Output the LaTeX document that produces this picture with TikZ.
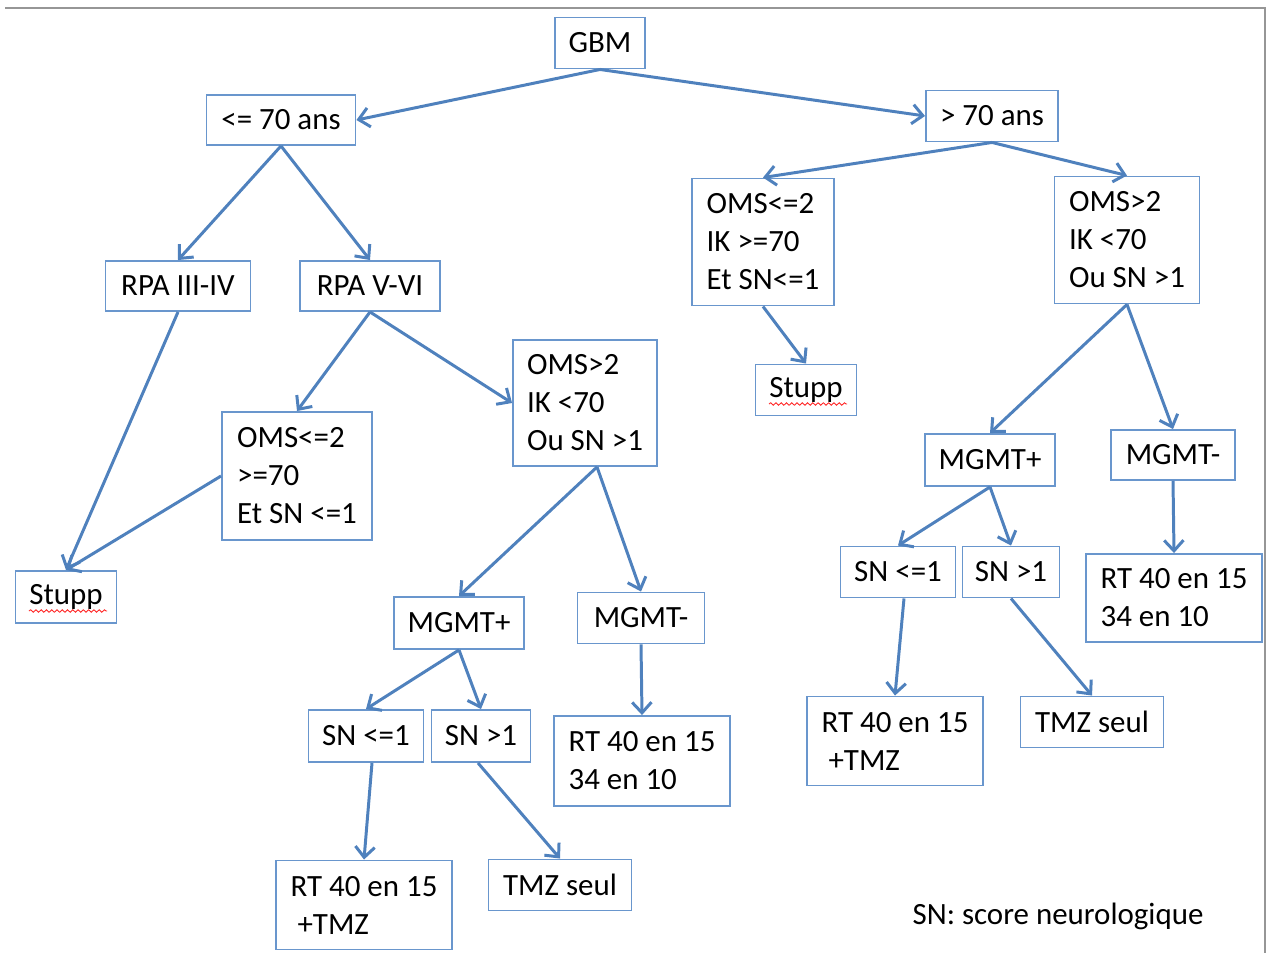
\documentclass[tikz,border=0pt]{standalone}
\usepackage{fontspec}
\setmainfont{Carlito}
\usetikzlibrary{arrows.meta,calc,decorations.pathmorphing}
\definecolor{lineblue}{RGB}{79,129,189}
\definecolor{boxblue}{RGB}{105,150,205}
\definecolor{framegray}{RGB}{150,150,150}

\begin{document}
\begin{tikzpicture}[x=0.02cm,y=-0.02cm,
  box/.style 2 args={draw=boxblue,line width=1.1pt,fill=white,inner sep=0pt,
    minimum width=#1*0.02cm,minimum height=#2*0.02cm,align=left,
    font=\fontsize{17.6}{21.6}\selectfont},
  arr/.style={draw=lineblue,line width=1.7pt,
    -{Straight Barb[length=6pt,width=11pt]}},
  spell/.style={red!85,line width=0.5pt,decorate,
    decoration={snake,amplitude=0.7pt,segment length=3pt}}]
  \useasboundingbox (0,0) rectangle (1273,953);
  \draw[framegray,line width=1.2pt] (5,8) -- (1265,8) -- (1265,953);

  \node[box={90}{51}] (GBM) at (600,43) {GBM};
  \node[box={149}{50}] (A) at (281,120) {<= 70 ans};
  \node[box={132}{51}] (B) at (992,116) {> 70 ans};

  % moins de 70 ans
  \node[box={145}{50}] (A1) at (178,286) {RPA III-IV};
  \node[box={140}{50}] (A2) at (370,286) {RPA V-VI};
  \node[box={150}{128}] (A3) at (297,476) {OMS<=2\\>=70\\Et SN <=1};
  \node[box={144}{126}] (A4) at (585,403) {OMS>2\\IK <70\\Ou SN >1};
  \node[box={101}{52}] (A5) at (66,597) {Stupp};
  \node[box={130}{52}] (A6) at (459,623) {MGMT+};
  \node[box={127}{51}] (A7) at (641,618) {MGMT-};
  \node[box={115}{52}] (A8) at (366,736) {SN <=1};
  \node[box={99}{52}] (A9) at (481,736) {SN >1};
  \node[box={176}{90}] (A10) at (642,761) {RT 40 en 15\\34 en 10};
  \node[box={176}{89}] (A11) at (364,905) {RT 40 en 15\\\ +TMZ};
  \node[box={143}{51}] (A12) at (560,885) {TMZ seul};

  % plus de 70 ans
  \node[box={142}{127}] (B1) at (763,242) {OMS<=2\\IK >=70\\Et SN<=1};
  \node[box={145}{127}] (B2) at (1127,240) {OMS>2\\IK <70\\Ou SN >1};
  \node[box={101}{51}] (B3) at (806,390) {Stupp};
  \node[box={130}{52}] (B4) at (990,460) {MGMT+};
  \node[box={124}{50}] (B5) at (1173,455) {MGMT-};
  \node[box={115}{51}] (B6) at (898,572) {SN <=1};
  \node[box={97}{51}] (B7) at (1011,572) {SN >1};
  \node[box={176}{88}] (B8) at (1174,598) {RT 40 en 15\\34 en 10};
  \node[box={176}{89}] (B9) at (895,741) {RT 40 en 15\\\ +TMZ};
  \node[box={143}{51}] (B10) at (1092,722) {TMZ seul};

  \node[font=\fontsize{17.6}{21}\selectfont] (SN) at (1058,916) {SN: score neurologique};

  \draw[spell] ($(A5.center)+(-37,14)$) -- ($(A5.center)+(41,14)$);
  \draw[spell] ($(B3.center)+(-37,14)$) -- ($(B3.center)+(41,14)$);

  \draw[arr] (GBM.south) -- (A.east);
  \draw[arr] (GBM.south) -- (B.west);

  \draw[arr] (A.south) -- (A1.north);
  \draw[arr] (A.south) -- (A2.north);
  \draw[arr] (A1.south) -- (A5.north);
  \draw[arr] (A2.south) -- (A3.north);
  \draw[arr] (A2.south) -- (A4.west);
  \draw[arr] (A3.west) -- (A5.north);
  \draw[arr] ($(A4.south)+(12,0)$) -- (A6.north);
  \draw[arr] ($(A4.south)+(12,0)$) -- (A7.north);
  \draw[arr] (A6.south) -- (A8.north);
  \draw[arr] (A6.south) -- (A9.north);
  \draw[arr] (A7.south) -- (A10.north);
  \draw[arr] ($(A8.south)+(6,0)$) -- (A11.north);
  \draw[arr] ($(A9.south)+(-3,0)$) -- (A12.north);

  \draw[arr] (B.south) -- (B1.north);
  \draw[arr] (B.south) -- (B2.north);
  \draw[arr] (B1.south) -- (B3.north);
  \draw[arr] (B2.south) -- (B4.north);
  \draw[arr] (B2.south) -- (B5.north);
  \draw[arr] (B4.south) -- (B6.north);
  \draw[arr] (B4.south) -- (B7.north);
  \draw[arr] (B5.south) -- (B8.north);
  \draw[arr] ($(B6.south)+(6,0)$) -- (B9.north);
  \draw[arr] (B7.south) -- (B10.north);
\end{tikzpicture}
\end{document}
